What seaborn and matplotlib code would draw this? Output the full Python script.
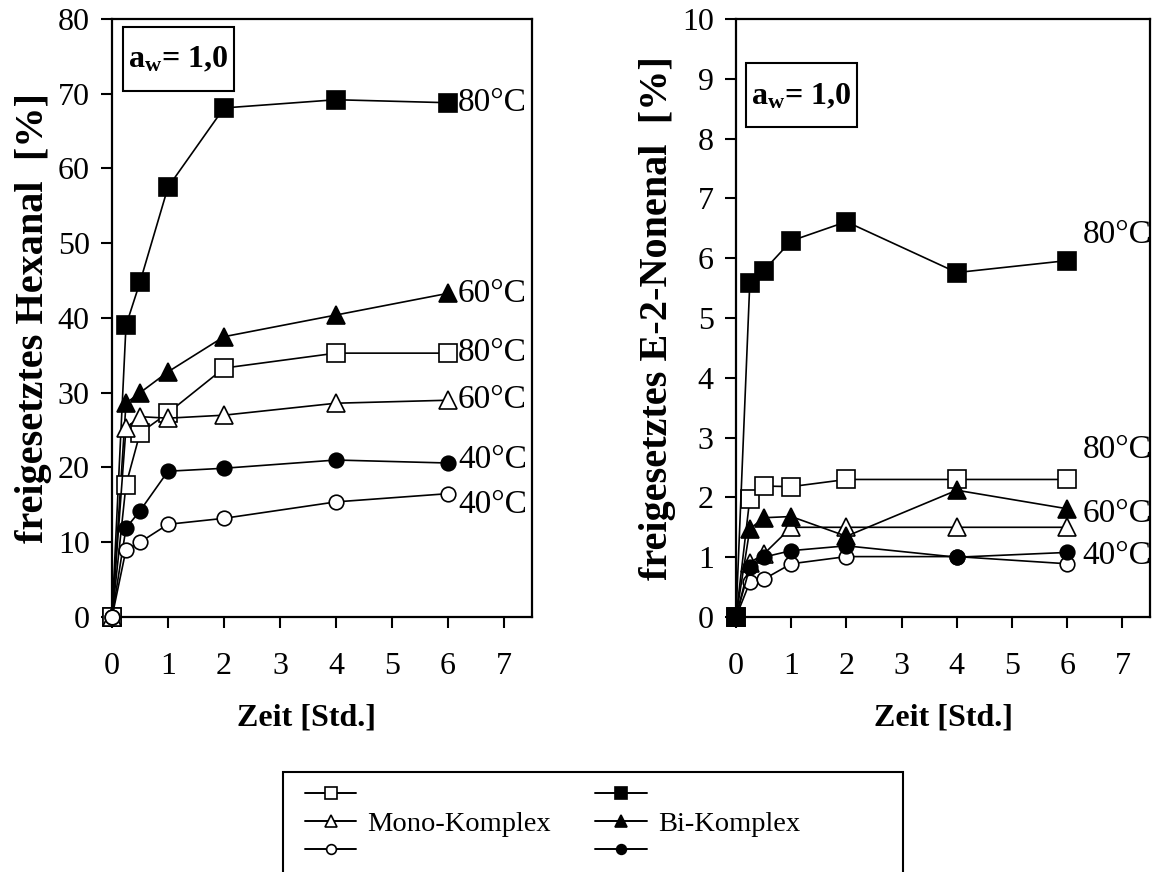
import numpy as np
import pandas as pd
import matplotlib
matplotlib.use("Agg")
import matplotlib.pyplot as plt
from matplotlib.lines import Line2D
from matplotlib.patches import Rectangle
import seaborn as sns

# ---- data -------------------------------------------------------------
zeit = [0, 0.25, 0.5, 1, 2, 4, 6]
x_ticks = [0, 1, 2, 3, 4, 5, 6, 7]

# Hexanal release [%]
hex_mono_80 = [0, 17.7, 24.6, 27.3, 33.3, 35.3, 35.3]
hex_mono_60 = [0, 25.3, 26.8, 26.6, 27.0, 28.6, 29.0]
hex_mono_40 = [0, 9.0, 10.0, 12.4, 13.2, 15.4, 16.5]
hex_bi_80 = [0, 39.0, 44.8, 57.5, 68.1, 69.2, 68.8]
hex_bi_60 = [0, 28.6, 30.0, 32.8, 37.5, 40.4, 43.3]
hex_bi_40 = [0, 11.9, 14.2, 19.5, 19.9, 21.0, 20.6]

# E-2-Nonenal release [%]
non_mono_80 = [0, 1.98, 2.19, 2.18, 2.30, 2.30, 2.30]
non_mono_60 = [0, 0.91, 1.05, 1.50, 1.50, 1.50, 1.50]
non_mono_40 = [0, 0.58, 0.63, 0.89, 1.01, 1.01, 0.89]
non_bi_80 = [0, 5.59, 5.79, 6.29, 6.61, 5.76, 5.96]
non_bi_60 = [0, 1.47, 1.66, 1.68, 1.35, 2.12, 1.81]
non_bi_40 = [0, 0.83, 1.00, 1.11, 1.19, 1.00, 1.08]

hex_labels = [("80°C", 68.8), ("60°C", 43.3), ("80°C", 35.3),
              ("60°C", 29.0), ("40°C", 21.1), ("40°C", 15.0)]
non_labels = [("80°C", 6.40), ("80°C", 2.80), ("60°C", 1.73), ("40°C", 1.02)]

# ---- style ------------------------------------------------------------
sns.set_style("ticks")
plt.rcParams["font.family"] = ["Liberation Serif", "DejaVu Serif"]
plt.rcParams["mathtext.fontset"] = "custom"
plt.rcParams["mathtext.rm"] = "Liberation Serif"
plt.rcParams["mathtext.bf"] = "Liberation Serif:bold"
plt.rcParams["mathtext.it"] = "Liberation Serif:italic"
for k in ["axes.edgecolor", "xtick.color", "ytick.color",
          "text.color", "axes.labelcolor"]:
    plt.rcParams[k] = "black"

W, H = 1155, 872
fig = plt.figure(figsize=(W / 100, H / 100), dpi=100)
ax1 = fig.add_axes([112 / W, 1 - 617 / H, 420 / W, 598 / H])
ax2 = fig.add_axes([736 / W, 1 - 617 / H, 414 / W, 598 / H])

# marker style per series: (marker, filled)
styles = {
    "mono_80": ("s", False), "bi_80": ("s", True),
    "mono_60": ("^", False), "bi_60": ("^", True),
    "mono_40": ("o", False), "bi_40": ("o", True),
}
msize = {"s": 12.5, "^": 13, "o": 10.5}


def draw_panel(ax, series, ymax, ystep, ylabel, labels, lab_x, xlab_pos):
    for key, vals in series.items():
        mk, filled = styles[key]
        df = pd.DataFrame({"Zeit": zeit, "Wert": vals})
        sns.lineplot(data=df, x="Zeit", y="Wert", ax=ax, color="black",
                     lw=1.2, marker=mk, ms=msize[mk],
                     markerfacecolor="black" if filled else "white",
                     markeredgecolor="black", markeredgewidth=1.2,
                     clip_on=False, zorder=3)
    ax.set_xlim(0, 7.5)
    ax.set_ylim(0, ymax)
    ax.set_xticks(x_ticks)
    yt = np.arange(0, ymax + ystep / 2, ystep)
    ax.set_yticks(yt)
    ax.set_yticklabels([f"{int(v)}" for v in yt])
    ax.tick_params(direction="out", length=8, width=1.5, labelsize=23)
    ax.tick_params(axis="x", pad=17)
    ax.tick_params(axis="y", pad=8)
    for s in ax.spines.values():
        s.set_linewidth(1.6)
        s.set_visible(True)
    ax.set_xlabel("Zeit [Std.]", fontsize=23, fontweight="bold")
    ax.xaxis.set_label_coords(xlab_pos, -0.145)
    ax.set_ylabel(ylabel, fontsize=29, fontweight="bold", labelpad=4)
    for txt, yv in labels:
        ax.text(lab_x, yv, txt, fontsize=24, va="center", ha="left")


draw_panel(ax1,
           {"bi_80": hex_bi_80, "bi_60": hex_bi_60, "mono_80": hex_mono_80,
            "mono_60": hex_mono_60, "bi_40": hex_bi_40, "mono_40": hex_mono_40},
           80, 10, "freigesetztes Hexanal  [%]", hex_labels, 6.18, 0.462)
draw_panel(ax2,
           {"mono_80": non_mono_80, "bi_80": non_bi_80, "mono_60": non_mono_60,
            "mono_40": non_mono_40, "bi_60": non_bi_60, "bi_40": non_bi_40},
           10, 1, "freigesetztes E-2-Nonenal  [%]", non_labels, 6.28, 0.5)

# water activity boxes
for ax, (x0, x1, y0, y1, base) in [
        (ax1, (0.0262, 0.2905, 0.8796, 0.9866, 0.9197)),
        (ax2, (0.0242, 0.2923, 0.8194, 0.9264, 0.858))]:
    ax.add_patch(Rectangle((x0, y0), x1 - x0, y1 - y0, transform=ax.transAxes,
                           fc="white", ec="black", lw=1.5, zorder=5))
    ax.text((x0 + x1) / 2, base, r"$\mathbf{a_w}$= 1,0", transform=ax.transAxes,
            fontsize=23, fontweight="bold", ha="center", va="baseline", zorder=6)

# legend: open = Mono-Komplex, filled = Bi-Komplex
def handle(mk, filled):
    return Line2D([], [], color="black", lw=1.4, marker=mk,
                  ms=8 if mk != "o" else 7,
                  markerfacecolor="black" if filled else "white",
                  markeredgecolor="black", markeredgewidth=1.2)

handles = [handle("s", False), handle("^", False), handle("o", False),
           handle("s", True), handle("^", True), handle("o", True)]
leg_labels = [" ", "Mono-Komplex", " ", " ", "Bi-Komplex", " "]
fig.legend(handles, leg_labels, ncol=2, loc="upper left",
           bbox_to_anchor=(305 / W, 1 - 783 / H), frameon=False,
           fontsize=20.5, handlelength=1.8, handletextpad=0.4,
           columnspacing=1.55, labelspacing=0.08, borderpad=0,
           borderaxespad=0)
fig.patches.append(Rectangle((283 / W, -0.05), 620 / W, (872 - 772) / H + 0.05,
                             transform=fig.transFigure, fill=False,
                             ec="black", lw=1.5))

fig.savefig("out.png", dpi=100)
